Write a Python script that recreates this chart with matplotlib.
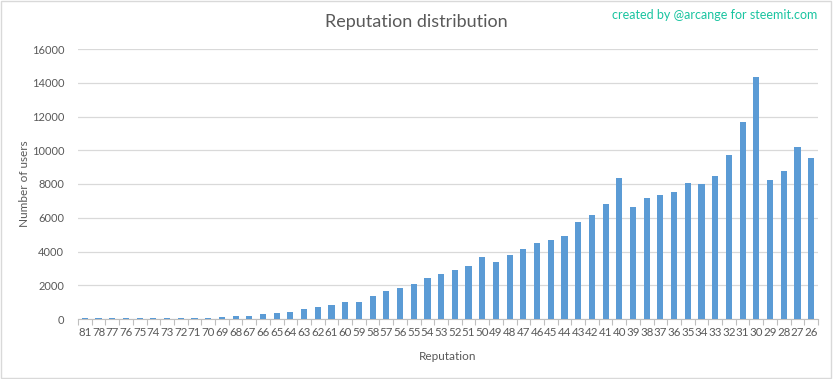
import numpy as np
import matplotlib
matplotlib.use("Agg")
from matplotlib import pyplot as plt

# reputation levels (x categories) and number of users per level
reputation = ["81", "78", "77", "76", "75", "74", "73", "72", "71", "70",
              "69", "68", "67", "66", "65", "64", "63", "62", "61", "60",
              "59", "58", "57", "56", "55", "54", "53", "52", "51", "50",
              "49", "48", "47", "46", "45", "44", "43", "42", "41", "40",
              "39", "38", "37", "36", "35", "34", "33", "32", "31", "30",
              "29", "28", "27", "26"]
users = [60, 40, 30, 40, 40, 40, 40, 40, 40, 50,
         130, 190, 180, 310, 380, 430, 610, 710, 830, 1010,
         1010, 1370, 1680, 1840, 2080, 2440, 2670, 2910, 3150, 3680,
         3390, 3800, 4160, 4510, 4690, 4930, 5760, 6180, 6830, 8380,
         6650, 7190, 7370, 7550, 8080, 8020, 8500, 9740, 11700, 14320,
         8260, 8790, 10220, 9560]
yticks = [0, 2000, 4000, 6000, 8000, 10000, 12000, 14000, 16000]

plt.rcParams['font.family'] = ['Lato', 'DejaVu Sans']
txt = '#595959'

fig = plt.figure(figsize=(8.33, 3.79), dpi=100)
ax = fig.add_axes([78/833, 1-319/379, 740/833, 270/379])

x = np.arange(len(reputation))
ax.bar(x, users, width=0.45, color='#5B9BD5', zorder=3)

ax.set_xlim(-0.5, len(reputation)-0.5)
ax.set_ylim(0, 16000)
ax.set_yticks(yticks)
ax.set_yticklabels([str(v) for v in yticks], fontsize=8, color=txt)
ax.set_xticks(x)
ax.set_xticklabels(reputation, fontsize=8.3, color=txt)
ax.tick_params(axis='y', length=0, pad=10)
ax.tick_params(axis='x', which='major', length=0, pad=6)
ax.set_xticks(np.arange(len(reputation)+1)-0.5, minor=True)
ax.tick_params(axis='x', which='minor', length=4, color='#BFBFBF', width=0.8)
ax.grid(axis='y', color='#D9D9D9', linewidth=0.9, zorder=0)
for s in ['top', 'right', 'left']:
    ax.spines[s].set_visible(False)
ax.spines['bottom'].set_color('#BFBFBF')
ax.spines['bottom'].set_linewidth(0.8)

ax.set_xlabel('Reputation', fontsize=8.5, color=txt, labelpad=9)
ax.set_ylabel('Number of users', fontsize=8.5, color=txt)
ax.yaxis.set_label_coords(-0.065, 0.5)

fig.text(0.5, 1-22/379, 'Reputation distribution', ha='center', va='center',
         fontsize=13, color=txt)
fig.text(817/833, 1-15/379, 'created by @arcange for steemit.com', ha='right',
         va='center', fontsize=9, color='#19C4A0')

# thin border around the picture
fig.patches.append(plt.Rectangle((0.001, 0.002), 0.997, 0.995, transform=fig.transFigure,
                                 fill=False, edgecolor='#D9D9D9', linewidth=1))

fig.savefig('out.png', dpi=100)
